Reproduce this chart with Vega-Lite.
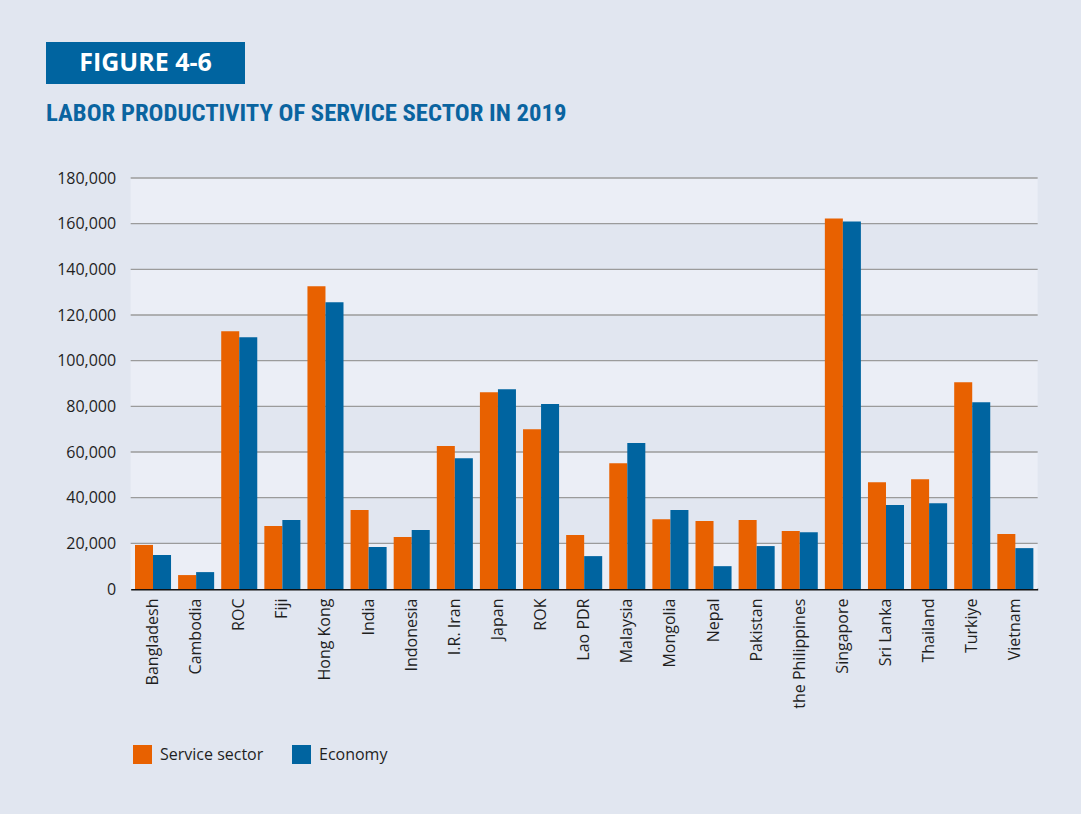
{
  "$schema": "https://vega.github.io/schema/vega-lite/v6.json",
  "background": "#e1e6f0",
  "padding": {"left": 46, "top": 42, "right": 44, "bottom": 50},
  "config": {"font": "Open Sans", "view": {"stroke": null}},
  "spacing": 44,
  "center": true,
  "datasets": {
    "bars": [
      {"country": "Bangladesh", "series": "Service sector", "value": 19300},
      {"country": "Bangladesh", "series": "Economy", "value": 14900},
      {"country": "Cambodia", "series": "Service sector", "value": 6100},
      {"country": "Cambodia", "series": "Economy", "value": 7400},
      {"country": "ROC", "series": "Service sector", "value": 112900},
      {"country": "ROC", "series": "Economy", "value": 110300},
      {"country": "Fiji", "series": "Service sector", "value": 27600},
      {"country": "Fiji", "series": "Economy", "value": 30200},
      {"country": "Hong Kong", "series": "Service sector", "value": 132600},
      {"country": "Hong Kong", "series": "Economy", "value": 125600},
      {"country": "India", "series": "Service sector", "value": 34600},
      {"country": "India", "series": "Economy", "value": 18400},
      {"country": "Indonesia", "series": "Service sector", "value": 22800},
      {"country": "Indonesia", "series": "Economy", "value": 25800},
      {"country": "I.R. Iran", "series": "Service sector", "value": 62600},
      {"country": "I.R. Iran", "series": "Economy", "value": 57300},
      {"country": "Japan", "series": "Service sector", "value": 86200},
      {"country": "Japan", "series": "Economy", "value": 87500},
      {"country": "ROK", "series": "Service sector", "value": 70000},
      {"country": "ROK", "series": "Economy", "value": 81000},
      {"country": "Lao PDR", "series": "Service sector", "value": 23600},
      {"country": "Lao PDR", "series": "Economy", "value": 14400},
      {"country": "Malaysia", "series": "Service sector", "value": 55100},
      {"country": "Malaysia", "series": "Economy", "value": 63900},
      {"country": "Mongolia", "series": "Service sector", "value": 30600},
      {"country": "Mongolia", "series": "Economy", "value": 34600},
      {"country": "Nepal", "series": "Service sector", "value": 29800},
      {"country": "Nepal", "series": "Economy", "value": 10000},
      {"country": "Pakistan", "series": "Service sector", "value": 30200},
      {"country": "Pakistan", "series": "Economy", "value": 18800},
      {"country": "the Philippines", "series": "Service sector", "value": 25400},
      {"country": "the Philippines", "series": "Economy", "value": 24900},
      {"country": "Singapore", "series": "Service sector", "value": 162300},
      {"country": "Singapore", "series": "Economy", "value": 161000},
      {"country": "Sri Lanka", "series": "Service sector", "value": 46800},
      {"country": "Sri Lanka", "series": "Economy", "value": 36800},
      {"country": "Thailand", "series": "Service sector", "value": 48100},
      {"country": "Thailand", "series": "Economy", "value": 37600},
      {"country": "Turkiye", "series": "Service sector", "value": 90600},
      {"country": "Turkiye", "series": "Economy", "value": 81800},
      {"country": "Vietnam", "series": "Service sector", "value": 24100},
      {"country": "Vietnam", "series": "Economy", "value": 17900}
    ],
    "bands": [
      {"lo": 0, "hi": 20000},
      {"lo": 40000, "hi": 60000},
      {"lo": 80000, "hi": 100000},
      {"lo": 120000, "hi": 140000},
      {"lo": 160000, "hi": 180000}
    ],
    "grid": [
      {"v": 20000}, {"v": 40000}, {"v": 60000}, {"v": 80000}, {"v": 100000},
      {"v": 120000}, {"v": 140000}, {"v": 160000}, {"v": 180000}
    ]
  },
  "vconcat": [
    {
      "spacing": 0,
      "bounds": "flush",
      "title": {
        "text": "LABOR PRODUCTIVITY OF SERVICE SECTOR IN 2019",
        "orient": "bottom",
        "anchor": "start",
        "frame": "bounds",
        "font": "Roboto Condensed, DejaVu Sans Condensed, Liberation Sans Narrow, sans-serif",
        "fontSize": 24.7,
        "fontWeight": "bold",
        "color": "#0a64a0",
        "offset": 17
      },
      "hconcat": [
        {
          "width": 199,
          "height": 42,
          "view": {"fill": "#0064a0", "stroke": null},
          "data": {"values": [{"label": "FIGURE 4-6"}]},
          "mark": {"type": "text", "font": "Open Sans", "fontSize": 25, "fontWeight": "bold", "color": "white", "align": "center", "baseline": "middle"},
          "encoding": {"text": {"field": "label", "type": "nominal"}}
        },
        {
          "width": 878,
          "height": 42,
          "data": {"values": [{"label": ""}]},
          "mark": {"type": "text"},
          "encoding": {"text": {"field": "label", "type": "nominal"}}
        }
      ]
    },
    {
      "width": 907,
      "height": 411,
      "layer": [
        {
          "data": {"name": "bands"},
          "mark": {"type": "rect", "color": "#ebeef6"},
          "encoding": {
            "y": {
              "field": "lo", "type": "quantitative",
              "scale": {"domain": [0, 180000], "nice": false},
              "axis": {
                "title": null, "grid": false, "domain": false, "ticks": false,
                "values": [0, 20000, 40000, 60000, 80000, 100000, 120000, 140000, 160000, 180000],
                "format": ",d", "labelFontSize": 16, "labelColor": "#1f1f1f",
                "labelPadding": 15, "minExtent": 84
              }
            },
            "y2": {"field": "hi"}
          }
        },
        {
          "data": {"name": "grid"},
          "mark": {"type": "rule", "color": "#9b9b9b", "strokeWidth": 1.3},
          "encoding": {"y": {"field": "v", "type": "quantitative"}}
        },
        {
          "data": {"name": "bars"},
          "mark": {"type": "bar"},
          "encoding": {
            "x": {
              "field": "country", "type": "nominal", "sort": null,
              "scale": {"paddingInner": 0.164, "paddingOuter": 0.1},
              "axis": {
                "title": null, "labelAngle": -90, "labelFontSize": 16, "labelColor": "#1f1f1f",
                "ticks": false, "domainColor": "#111111", "domainWidth": 2, "labelPadding": 9
              }
            },
            "xOffset": {"field": "series", "type": "nominal", "sort": ["Service sector", "Economy"]},
            "y": {"field": "value", "type": "quantitative"},
            "color": {
              "field": "series", "type": "nominal",
              "sort": ["Service sector", "Economy"],
              "scale": {"domain": ["Service sector", "Economy"], "range": ["#e86100", "#0064a0"]},
              "legend": {
                "title": null, "orient": "none", "legendX": 87, "legendY": 703,
                "direction": "horizontal", "columns": 2,
                "symbolType": "square", "symbolSize": 361, "symbolStrokeWidth": 0,
                "labelFontSize": 16, "labelColor": "#1f1f1f", "columnPadding": 28, "labelOffset": 8
              }
            }
          }
        }
      ]
    }
  ]
}
